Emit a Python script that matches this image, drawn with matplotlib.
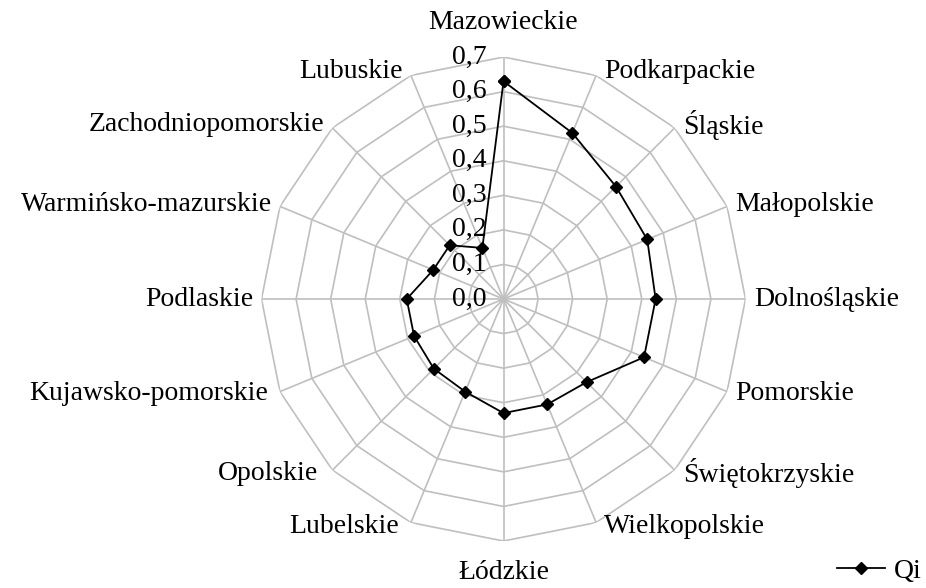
import numpy as np
import matplotlib
matplotlib.use("Agg")
import matplotlib.pyplot as plt

# Regions, clockwise from the top
regions = ["Mazowieckie", "Podkarpackie", "Śląskie", "Małopolskie", "Dolnośląskie",
           "Pomorskie", "Świętokrzyskie", "Wielkopolskie", "Łódzkie", "Lubelskie",
           "Opolskie", "Kujawsko-pomorskie", "Podlaskie", "Warmińsko-mazurskie",
           "Zachodniopomorskie", "Lubuskie"]
qi = [0.63, 0.52, 0.46, 0.45, 0.44, 0.44, 0.34, 0.33, 0.33, 0.29,
      0.285, 0.28, 0.28, 0.22, 0.22, 0.16]
levels = [0.0, 0.1, 0.2, 0.3, 0.4, 0.5, 0.6, 0.7]
level_labels = ["0,0", "0,1", "0,2", "0,3", "0,4", "0,5", "0,6", "0,7"]
series_name = "Qi"

plt.rcParams["font.family"] = ["Liberation Serif", "DejaVu Serif"]
plt.rcParams["font.size"] = 20

n = len(regions)
theta = np.arange(n) * 2 * np.pi / n
theta_closed = np.append(theta, theta[0])

fig = plt.figure(figsize=(9.26, 5.88), dpi=100)
ax = fig.add_axes([0.2824, 0.0799, 0.5227, 0.8231], projection="polar")
ax.set_theta_zero_location("N")
ax.set_theta_direction(-1)
ax.set_ylim(0, levels[-1])
ax.grid(False)
ax.set_xticks([])
ax.set_yticks([])
ax.spines["polar"].set_visible(False)
ax.patch.set_visible(False)

grid_color = "#bfbfbf"
# polygon grid
for lv in levels[1:]:
    ax.plot(theta_closed, [lv] * (n + 1), color=grid_color, lw=1.2, zorder=1)
# spokes
for t in theta:
    ax.plot([t, t], [0, levels[-1]], color=grid_color, lw=1.2, zorder=1)

# data
ax.plot(theta_closed, qi + [qi[0]], color="black", lw=1.3, marker="D",
        markersize=6.5, zorder=3, label=series_name)

# value axis labels
for lv, txt in zip(levels, level_labels):
    ax.annotate(txt, xy=(0, lv), xytext=(-12, 0), textcoords="offset points",
                ha="right", va="center", annotation_clip=False)

# category labels
for t, name in zip(theta, regions):
    s, c = np.sin(t), np.cos(t)
    if abs(s) < 1e-6:
        ha = "center"
        dx = 0
        if c > 0:
            va, dy = "bottom", 16
        else:
            va, dy = "top", -14
    else:
        ha = "left" if s > 0 else "right"
        dx = 6 * np.sign(s)
        if s < 0 and c < 0:
            dx -= 4 * abs(c) * abs(s) * 2
        va = "center"
        dy = 3 * c
    ax.annotate(name, xy=(t, levels[-1]), xytext=(dx, dy), textcoords="offset points",
                ha=ha, va=va, annotation_clip=False)

fig.legend(loc="center right", bbox_to_anchor=(0.995, 0.029), frameon=False,
           handlelength=1.75, handletextpad=0.3, borderpad=0, borderaxespad=0)

fig.savefig("out.png", dpi=100)
